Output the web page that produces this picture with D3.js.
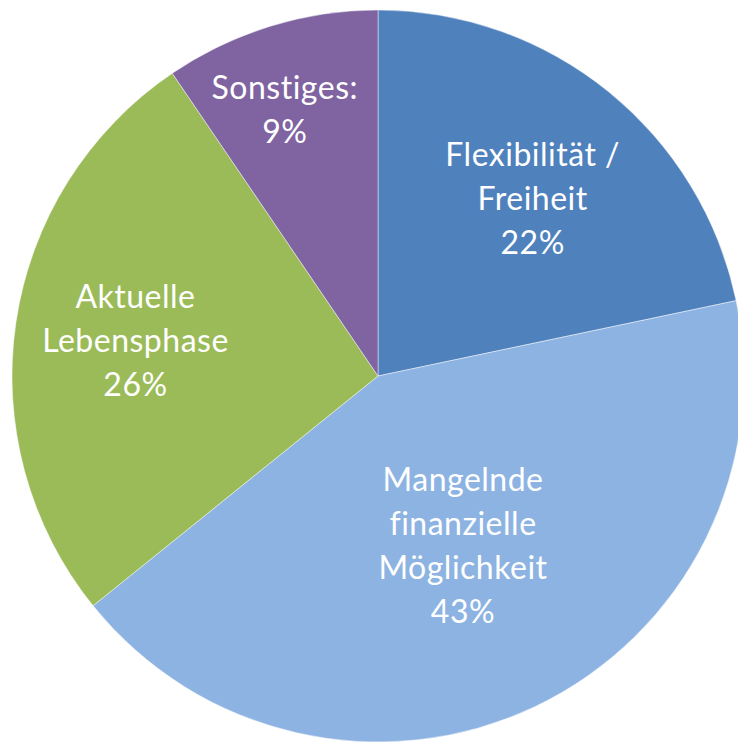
<!DOCTYPE html>
<html>
<head>
<meta charset="utf-8">
<script src="https://cdn.jsdelivr.net/npm/d3@7"></script>
<style>
  html, body { margin: 0; padding: 0; background: #fff; }
  svg { display: block; }
  text { font-variant-ligatures: none; font-feature-settings: "liga" 0, "clig" 0; }
</style>
</head>
<body>
<svg id="chart" width="738" height="743"></svg>
<script>
const categories = [
  ["Flexibilität /", "Freiheit"],
  ["Mangelnde", "finanzielle", "Möglichkeit"],
  ["Aktuelle", "Lebensphase"],
  ["Sonstiges:"]
];
const values = [21.7, 42.5, 26.3, 9.5];
const percentLabels = ["22%", "43%", "26%", "9%"];
const colors = ["#4F81BD", "#8DB3E2", "#9BBB59", "#8064A2"];

const svg = d3.select("#chart");
const cx = 378, cy = 376, R = 366;
const labelRadius = [235, 190, 245, 282];
const labelShiftDeg = [2.1, -1.2, -0.3, -2.2];
const lineH = 44;

const pie = d3.pie().sort(null).value(d => d)(values);
const arc = d3.arc().innerRadius(0).outerRadius(R);

const g = svg.append("g").attr("transform", `translate(${cx},${cy})`);

g.selectAll("path.slice")
  .data(pie)
  .join("path")
  .attr("class", "slice")
  .attr("d", arc)
  .attr("fill", (d, i) => colors[i])
  .attr("stroke", "rgba(255,255,255,0.45)")
  .attr("stroke-width", 1);

pie.forEach((d, i) => {
  const a = (d.startAngle + d.endAngle) / 2 + labelShiftDeg[i] * Math.PI / 180;
  const x = labelRadius[i] * Math.sin(a);
  const y = -labelRadius[i] * Math.cos(a);
  const lines = categories[i].concat([percentLabels[i]]);
  const t = g.append("text")
    .attr("text-anchor", "middle")
    .attr("fill", "#fff")
    .attr("font-family", "Lato, 'Open Sans', sans-serif")
    .attr("font-size", 32)
    .attr("letter-spacing", 0.5);
  const n = lines.length;
  lines.forEach((s, k) => {
    t.append("tspan")
      .attr("x", x)
      .attr("y", y + (k - (n - 1) / 2) * lineH)
      .attr("dy", "0.35em")
      .text(s);
  });
});
</script>
</body>
</html>
